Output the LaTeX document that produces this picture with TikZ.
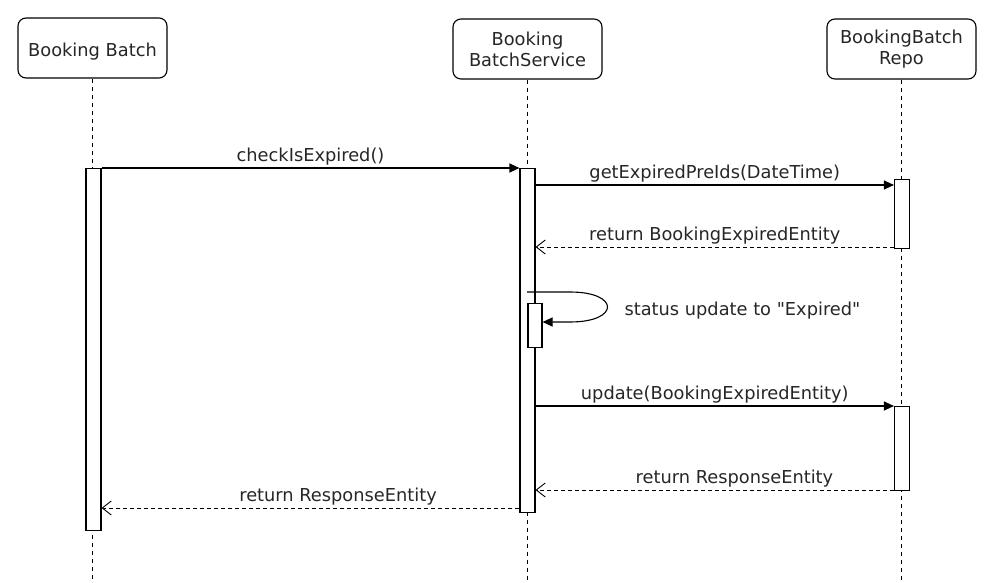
\documentclass[tikz,border=0pt]{standalone}
\usepackage{fontspec}
\setmainfont{DejaVu Sans}[Ligatures=TeXOff]
\usetikzlibrary{arrows.meta}
\tikzset{
  every node/.style={font=\fontsize{17.8}{21}\selectfont, text=black!85},
  actor/.style={draw, rounded corners=8pt, minimum width=149pt, minimum height=60pt, align=center, line width=1.1pt},
  oneline/.style={text height=17pt, text depth=0pt},
  bar/.style={draw, fill=white, minimum width=15pt, inner sep=0pt, line width=1.1pt},
  life/.style={dash pattern=on 4pt off 4pt, line width=0.9pt},
  call/.style={-{Triangle[length=10pt,width=9pt]}, line width=1.1pt},
  reply/.style={dash pattern=on 4pt off 3pt, -{Straight Barb[length=9pt,width=14pt]}, line width=0.9pt},
}
\begin{document}
\begin{tikzpicture}[x=1pt,y=-1pt]
    \useasboundingbox (0,0) rectangle (994,583);
    % participants
    \node[actor,oneline] (batch) at (92.5,48) {Booking Batch};
    \node[actor] (service) at (527.5,49) {Booking\\BatchService};
    \node[actor] (repo) at (901.5,49) {BookingBatch\\Repo};
    \draw[life] (batch.south) -- (batch.south |- 0,583);
    \draw[life] (service.south) -- (service.south |- 0,583);
    \draw[life] (repo.south) -- (repo.south |- 0,583);
    % activations
    \node[bar, minimum height=362pt, anchor=north] (actA) at (93.5,168) {};
    \node[bar, minimum height=344pt, anchor=north] (actB) at (527.5,168) {};
    \node[bar, minimum height=69pt, anchor=north] (actC1) at (902,179) {};
    \node[bar, minimum height=84pt, anchor=north] (actC2) at (902,406) {};
    \node[bar, minimum height=44pt, minimum width=14pt, anchor=north] (actS) at (535,303) {};
    % message rows
    \coordinate (m1) at (0,168);
    \coordinate (m2) at (0,185);
    \coordinate (r2) at (0,247);
    \coordinate (s1) at (527,292);
    \coordinate (s2) at (0,322);
    \coordinate (m3) at (0,406);
    \coordinate (r3) at (0,490);
    \coordinate (r1) at (0,508);
    % messages
    \draw[call] (actA.east |- m1) -- node[midway,above,inner sep=2.5pt] {checkIsExpired()} (actB.west |- m1);
    \draw[call] (actB.east |- m2) -- node[midway,above,inner sep=2.5pt] {getExpiredPreIds(DateTime)} (actC1.west |- m2);
    \draw[reply] (actC1.west |- r2) -- node[midway,above,inner sep=2.5pt] {return BookingExpiredEntity} (actB.east |- r2);
    \draw[call] (s1) -- (570,292) .. controls (620,292) and (620,322) .. (570,322) -- (actS.east |- s2);
    \node[anchor=west] (status) at (621,311) {status update to "Expired"};
    \draw[call] (actB.east |- m3) -- node[midway,above,inner sep=2.5pt] {update(BookingExpiredEntity)} (actC2.west |- m3);
    \draw[reply] (actC2.west |- r3) -- node[pos=0.445,above,inner sep=2.5pt] {return ResponseEntity} (actB.east |- r3);
    \draw[reply] (actB.west |- r1) -- node[pos=0.434,above,inner sep=2.5pt] {return ResponseEntity} (actA.east |- r1);
\end{tikzpicture}
\end{document}
